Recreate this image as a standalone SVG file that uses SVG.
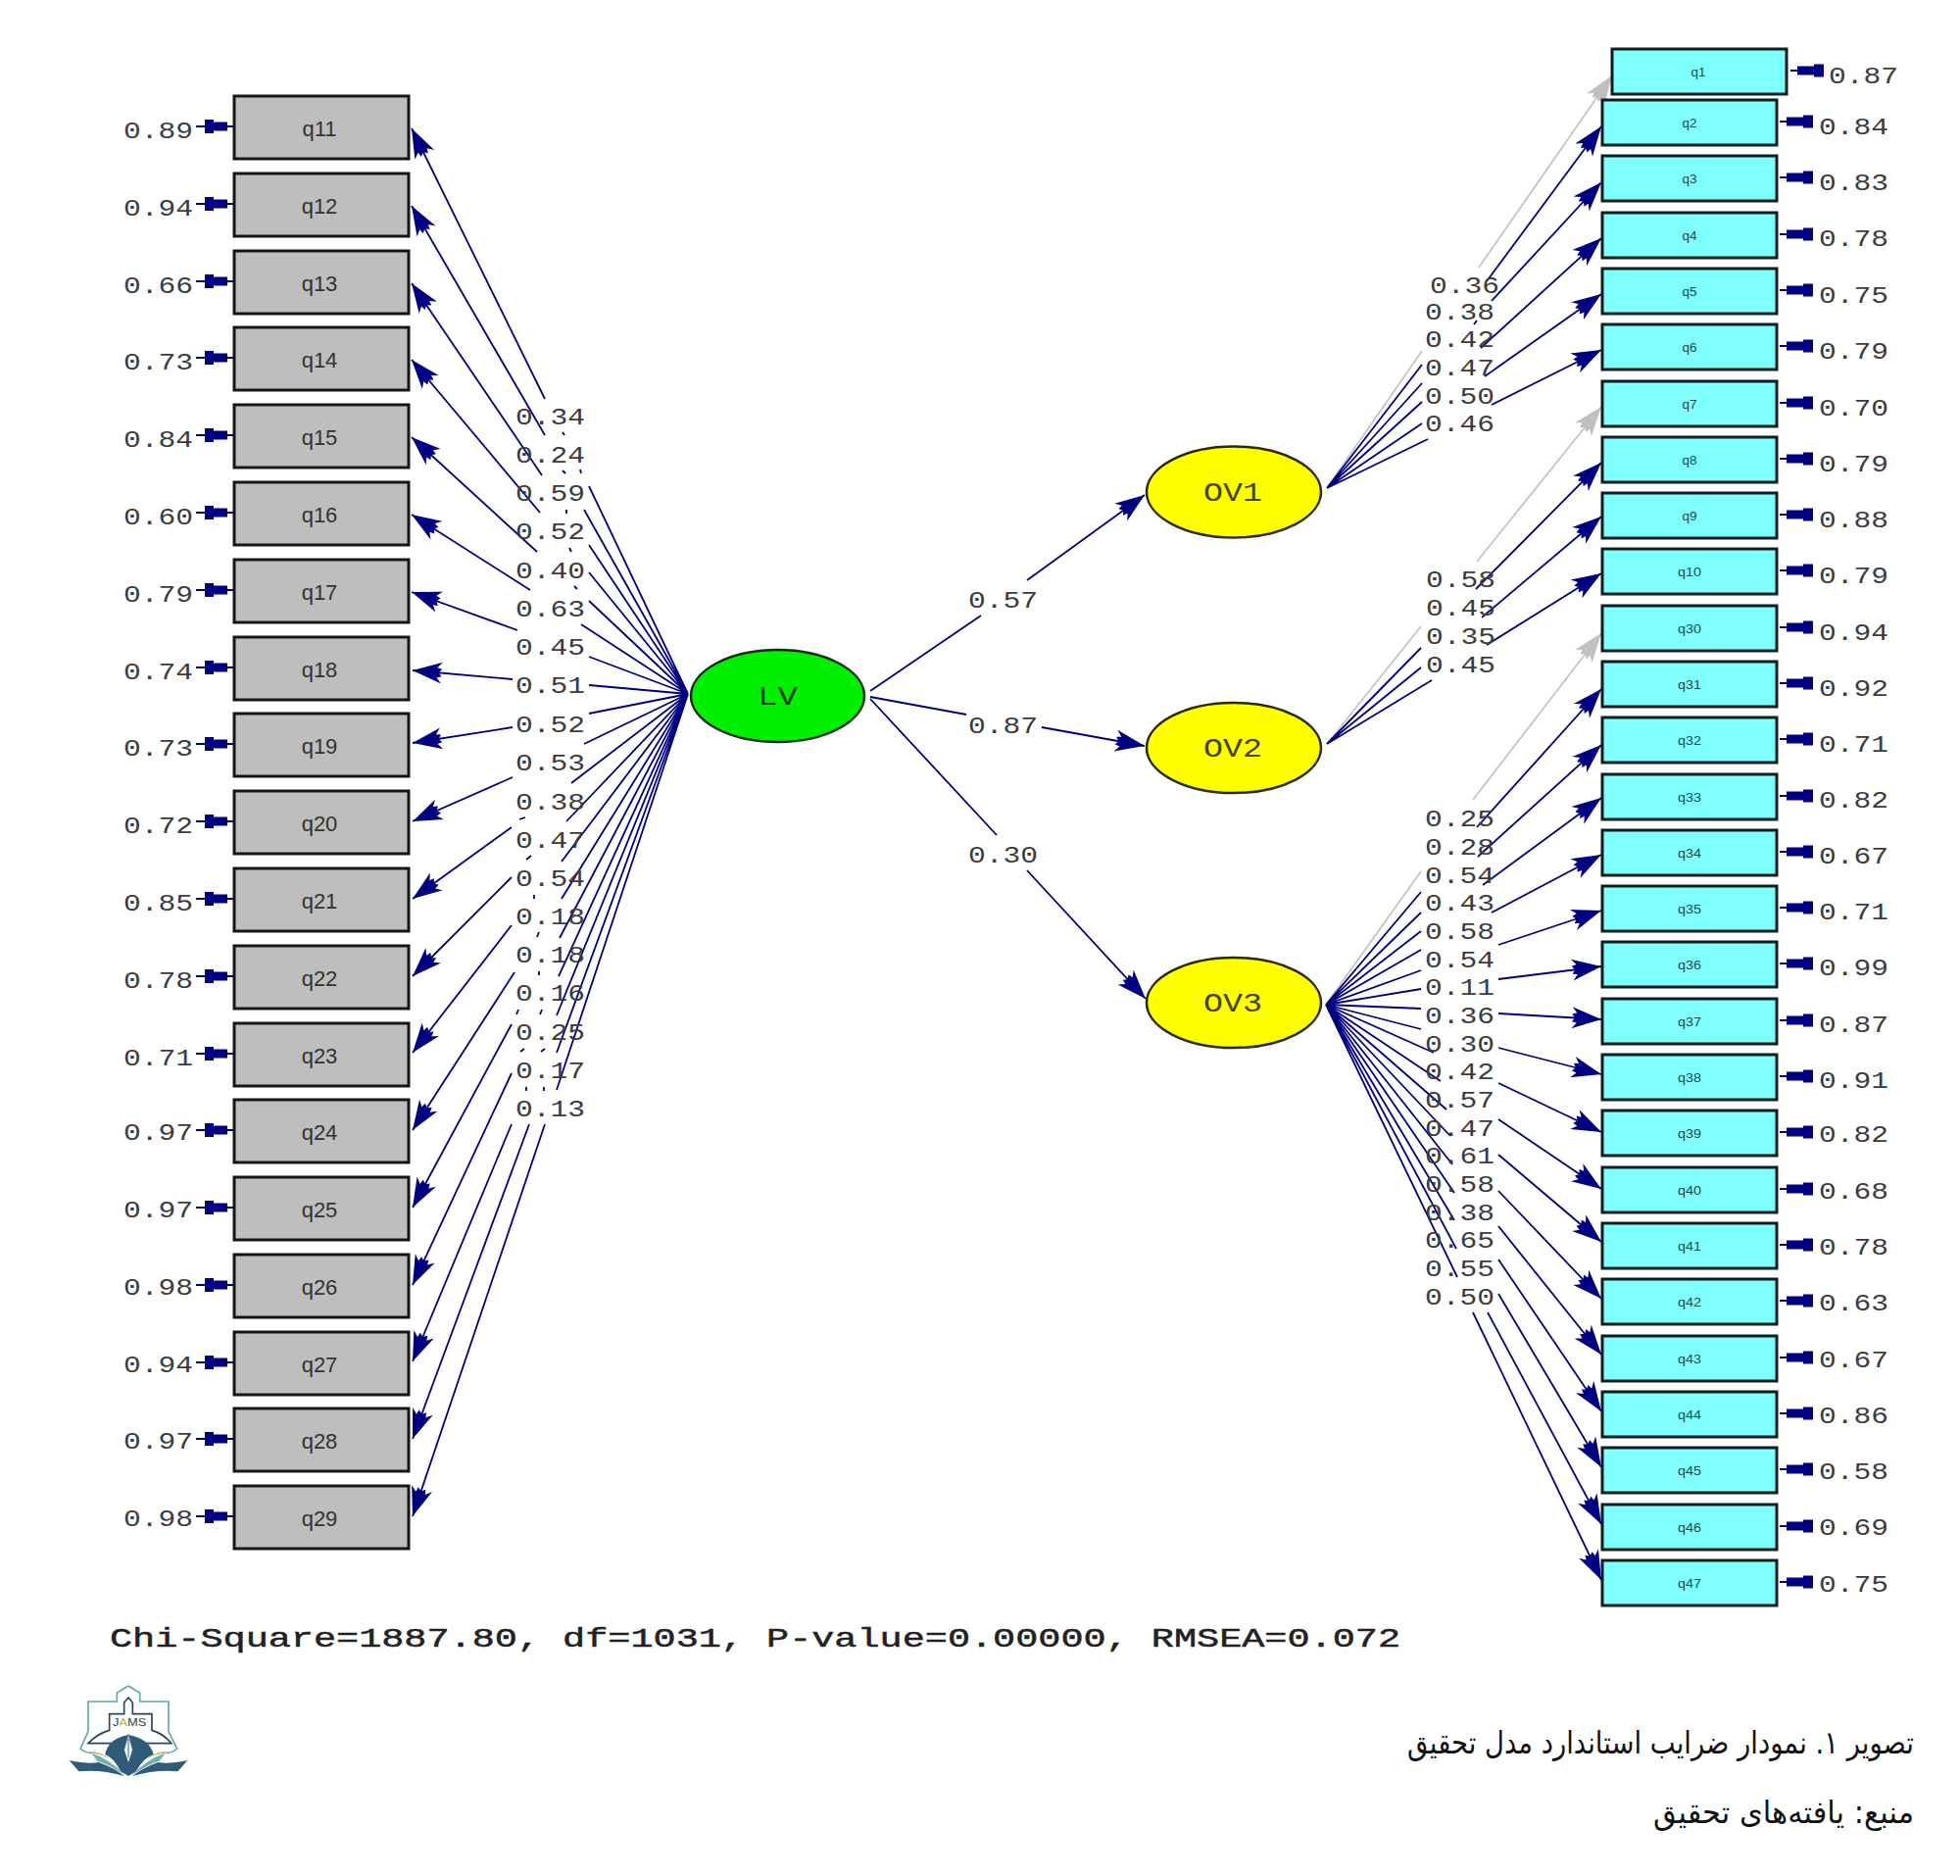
<svg xmlns="http://www.w3.org/2000/svg" xmlns:xlink="http://www.w3.org/1999/xlink" width="2000" height="1914" viewBox="0 0 2000 1914">
<style>
.bg{fill:#fff}
.l{fill:#bebebe;stroke:#161616;stroke-width:3}
.r{fill:#80ffff;stroke:#0f1f1f;stroke-width:3}
.lv{fill:#00f000;stroke:#1a2a1a;stroke-width:2.5}
.ov{fill:#ffff00;stroke:#2a2a10;stroke-width:2.5}
.v{font-family:"Liberation Mono","Courier New",monospace;font-size:23px;fill:#3c3c3c}
.lt{font-family:"Liberation Sans",Arial,sans-serif;font-size:22px;fill:#333;text-anchor:middle}
.rt{font-family:"Liberation Sans",Arial,sans-serif;font-size:13px;fill:#1c4a4a;text-anchor:middle}
.n{font-family:"Liberation Mono","Courier New",monospace;font-size:28px}
.c{font-family:"Liberation Mono","Courier New",monospace;font-size:28px;fill:#222;stroke:#222;stroke-width:.5}
.fa{font-family:"DejaVu Sans",sans-serif;font-size:32px;fill:#111}
.e{fill:#000080}
#conn path{fill:none;stroke:#000080;stroke-width:1.8}
#conn .a{marker-end:url(#h)}
#conn .g{stroke:#c4c4c4}
#conn .ga{stroke:#c4c4c4;marker-end:url(#hg)}
</style>
<defs>
<marker id="h" markerUnits="userSpaceOnUse" markerWidth="36" markerHeight="26" viewBox="0 -13 36 26" refX="33" refY="0" orient="auto"><path d="M33 0L3 -11L8 -5L3 -4L6 0L3 4L8 5L3 11Z" fill="#000080"/></marker>
<marker id="hg" markerUnits="userSpaceOnUse" markerWidth="36" markerHeight="26" viewBox="0 -13 36 26" refX="33" refY="0" orient="auto"><path d="M33 0L3 -11L8 -5L3 -4L6 0L3 4L8 5L3 11Z" fill="#c0c0c0"/></marker>
<path id="eR" class="e" d="M3 -1H10V-4.5H27V-6.5H37V6.5H27V4.5H10V1H3Z"/>
<path id="eL" class="e" d="M0 -1H-6V-4.5H-20V-7H-29V-1H-38V1H-29V7H-20V4.5H-6V1H0Z"/>
</defs>
<rect class="bg" width="2000" height="1914"/>

<g id="conn">
<!-- LV to indicators, inner segments -->
<path d="M702 708L601 496M702 708L596 520M702 708L601 556M702 708L601 584M702 708L601 613M702 708L593 637M702 708L601 670M702 708L601 699M702 708L601 728M702 708L596 759M702 708L583 799M702 708L578 838M702 708L573 879M702 708L573 917M702 708L571 957M702 708L570 996M702 708L568 1036M702 708L568 1074M702 708L568 1112"/>
<!-- small fragments between labels -->
<path d="M574 441l2 3M574 480l3 3M592 479l1 4M578 520v4M581 559l2 4M586 598l3 3M536 834l-6 2M542 873l-5 4M545 913v4M550 951l-2 5M550 991v4M553 1030l-2 5M529 1030l-2 5M556 1070l-4 3M535 1070l-4 3M555 1109v4M537 1109v4"/>
<!-- LV to indicators, outer segments -->
<path class="a" d="M556 407L420 131"/>
<path class="a" d="M556 444L420 210"/>
<path class="a" d="M553 485L420 289"/>
<path class="a" d="M551 523L420 367"/>
<path class="a" d="M548 563L420 446"/>
<path class="a" d="M541 602L420 525"/>
<path class="a" d="M528 643L420 604"/>
<path class="a" d="M523 693L421 684"/>
<path class="a" d="M523 742L421 758"/>
<path class="a" d="M523 793L421 838"/>
<path class="a" d="M522 844L421 917"/>
<path class="a" d="M522 895L421 996"/>
<path class="a" d="M522 944L421 1074"/>
<path class="a" d="M525 992L421 1153"/>
<path class="a" d="M522 1045L421 1232"/>
<path class="a" d="M522 1095L421 1311"/>
<path class="a" d="M522 1147L421 1389"/>
<path class="a" d="M540 1147L421 1468"/>
<path class="a" d="M556 1147L421 1547"/>
<!-- LV to OV -->
<path d="M888 705L1001 628"/>
<path class="a" d="M1048 592L1168 505"/>
<path d="M888 711L986 729"/>
<path class="a" d="M1063 742L1168 761"/>
<path d="M888 713L1017 852"/>
<path class="a" d="M1048 888L1169 1019"/>
<!-- OV1 -->
<path class="g" d="M1354 498L1451 358"/>
<path d="M1354 498L1451 372M1354 498L1451 391M1354 498L1451 410M1354 498L1451 432M1354 498L1457 448"/>
<path class="ga" d="M1509 273L1645 77"/>
<path class="a" d="M1517 287L1634 129"/>
<path class="a" d="M1522 307L1634 186"/>
<path class="a" d="M1511 355L1634 243"/>
<path class="a" d="M1515 384L1634 300"/>
<path class="a" d="M1522 413L1634 357"/>
<path d="M1507 327l-3 4"/>
<!-- OV2 -->
<path class="g" d="M1354 759L1450 639"/>
<path d="M1354 759L1450 661M1354 759L1450 681M1354 759L1461 694"/>
<path class="ga" d="M1507 573L1634 415"/>
<path class="a" d="M1506 601L1634 472"/>
<path class="a" d="M1512 630L1634 527"/>
<path class="a" d="M1517 658L1634 585"/>
<!-- OV3 -->
<path class="g" d="M1353 1025L1450 889"/>
<path d="M1353 1025L1450 910M1353 1025L1450 931M1353 1025L1450 950M1353 1025L1450 969M1353 1025L1450 990M1353 1025L1450 1009M1353 1025L1450 1029M1353 1025L1450 1050M1353 1025L1463 1074M1353 1025L1470 1103M1353 1025L1476 1132M1353 1025L1480 1159M1353 1025L1482 1188M1353 1025L1484 1217M1353 1025L1484 1245M1353 1025L1486 1274M1353 1025L1487 1303"/>
<path class="ga" d="M1503 816L1634 646"/>
<path class="a" d="M1507 844L1634 703"/>
<path class="a" d="M1508 874L1634 760"/>
<path class="a" d="M1513 903L1634 814"/>
<path class="a" d="M1522 931L1634 872"/>
<path class="a" d="M1529 964L1634 929"/>
<path class="a" d="M1529 999L1634 986"/>
<path class="a" d="M1529 1034L1634 1040"/>
<path class="a" d="M1529 1069L1634 1096"/>
<path class="a" d="M1529 1105L1634 1155"/>
<path class="a" d="M1529 1142L1634 1213"/>
<path class="a" d="M1529 1178L1634 1267"/>
<path class="a" d="M1529 1215L1634 1325"/>
<path class="a" d="M1529 1251L1634 1382"/>
<path class="a" d="M1529 1285L1634 1440"/>
<path class="a" d="M1529 1320L1634 1497"/>
<path class="a" d="M1518 1339L1634 1555"/>
<path class="a" d="M1503 1339L1634 1612"/>
</g>

<g id="loadings">
<g class="v">
<text x="526" y="433" textLength="71" lengthAdjust="spacingAndGlyphs">0.34</text>
<text x="526" y="472" textLength="71" lengthAdjust="spacingAndGlyphs">0.24</text>
<text x="526" y="511" textLength="71" lengthAdjust="spacingAndGlyphs">0.59</text>
<text x="526" y="550" textLength="71" lengthAdjust="spacingAndGlyphs">0.52</text>
<text x="526" y="590" textLength="71" lengthAdjust="spacingAndGlyphs">0.40</text>
<text x="526" y="629" textLength="71" lengthAdjust="spacingAndGlyphs">0.63</text>
<text x="526" y="668" textLength="71" lengthAdjust="spacingAndGlyphs">0.45</text>
<text x="526" y="707" textLength="71" lengthAdjust="spacingAndGlyphs">0.51</text>
<text x="526" y="747" textLength="71" lengthAdjust="spacingAndGlyphs">0.52</text>
<text x="526" y="786" textLength="71" lengthAdjust="spacingAndGlyphs">0.53</text>
<text x="526" y="826" textLength="71" lengthAdjust="spacingAndGlyphs">0.38</text>
<text x="526" y="865" textLength="71" lengthAdjust="spacingAndGlyphs">0.47</text>
<text x="526" y="904" textLength="71" lengthAdjust="spacingAndGlyphs">0.54</text>
<text x="526" y="943" textLength="71" lengthAdjust="spacingAndGlyphs">0.18</text>
<text x="526" y="982" textLength="71" lengthAdjust="spacingAndGlyphs">0.18</text>
<text x="526" y="1021" textLength="71" lengthAdjust="spacingAndGlyphs">0.16</text>
<text x="526" y="1061" textLength="71" lengthAdjust="spacingAndGlyphs">0.25</text>
<text x="526" y="1100" textLength="71" lengthAdjust="spacingAndGlyphs">0.17</text>
<text x="526" y="1139" textLength="71" lengthAdjust="spacingAndGlyphs">0.13</text>
<text x="988" y="620" textLength="71" lengthAdjust="spacingAndGlyphs">0.57</text>
<text x="988" y="748" textLength="71" lengthAdjust="spacingAndGlyphs">0.87</text>
<text x="988" y="880" textLength="71" lengthAdjust="spacingAndGlyphs">0.30</text>
<text x="1459" y="299" textLength="71" lengthAdjust="spacingAndGlyphs">0.36</text>
<text x="1454" y="326" textLength="71" lengthAdjust="spacingAndGlyphs">0.38</text>
<text x="1454" y="354" textLength="71" lengthAdjust="spacingAndGlyphs">0.42</text>
<text x="1454" y="383" textLength="71" lengthAdjust="spacingAndGlyphs">0.47</text>
<text x="1454" y="412" textLength="71" lengthAdjust="spacingAndGlyphs">0.50</text>
<text x="1454" y="440" textLength="71" lengthAdjust="spacingAndGlyphs">0.46</text>
<text x="1455" y="599" textLength="71" lengthAdjust="spacingAndGlyphs">0.58</text>
<text x="1455" y="628" textLength="71" lengthAdjust="spacingAndGlyphs">0.45</text>
<text x="1455" y="657" textLength="71" lengthAdjust="spacingAndGlyphs">0.35</text>
<text x="1455" y="686" textLength="71" lengthAdjust="spacingAndGlyphs">0.45</text>
<text x="1454" y="843" textLength="71" lengthAdjust="spacingAndGlyphs">0.25</text>
<text x="1454" y="872" textLength="71" lengthAdjust="spacingAndGlyphs">0.28</text>
<text x="1454" y="901" textLength="71" lengthAdjust="spacingAndGlyphs">0.54</text>
<text x="1454" y="929" textLength="71" lengthAdjust="spacingAndGlyphs">0.43</text>
<text x="1454" y="958" textLength="71" lengthAdjust="spacingAndGlyphs">0.58</text>
<text x="1454" y="987" textLength="71" lengthAdjust="spacingAndGlyphs">0.54</text>
<text x="1454" y="1015" textLength="71" lengthAdjust="spacingAndGlyphs">0.11</text>
<text x="1454" y="1044" textLength="71" lengthAdjust="spacingAndGlyphs">0.36</text>
<text x="1454" y="1073" textLength="71" lengthAdjust="spacingAndGlyphs">0.30</text>
<text x="1454" y="1101" textLength="71" lengthAdjust="spacingAndGlyphs">0.42</text>
<text x="1454" y="1130" textLength="71" lengthAdjust="spacingAndGlyphs">0.57</text>
<text x="1454" y="1159" textLength="71" lengthAdjust="spacingAndGlyphs">0.47</text>
<text x="1454" y="1187" textLength="71" lengthAdjust="spacingAndGlyphs">0.61</text>
<text x="1454" y="1216" textLength="71" lengthAdjust="spacingAndGlyphs">0.58</text>
<text x="1454" y="1245" textLength="71" lengthAdjust="spacingAndGlyphs">0.38</text>
<text x="1454" y="1273" textLength="71" lengthAdjust="spacingAndGlyphs">0.65</text>
<text x="1454" y="1302" textLength="71" lengthAdjust="spacingAndGlyphs">0.55</text>
<text x="1454" y="1331" textLength="71" lengthAdjust="spacingAndGlyphs">0.50</text>
</g>
</g>

<g id="LV"><ellipse class="lv" cx="793.5" cy="710" rx="88.5" ry="47"/><text class="n" x="773" y="719" fill="#103a10" textLength="41" lengthAdjust="spacingAndGlyphs">LV</text></g>
<g id="OV1"><ellipse class="ov" cx="1259" cy="502" rx="89" ry="46.5"/><text class="n" x="1228" y="511" fill="#44440a" textLength="60" lengthAdjust="spacingAndGlyphs">OV1</text></g>
<g id="OV2"><ellipse class="ov" cx="1259" cy="763" rx="89" ry="46"/><text class="n" x="1228" y="772" fill="#44440a" textLength="60" lengthAdjust="spacingAndGlyphs">OV2</text></g>
<g id="OV3"><ellipse class="ov" cx="1259" cy="1023" rx="89" ry="46"/><text class="n" x="1228" y="1032" fill="#44440a" textLength="60" lengthAdjust="spacingAndGlyphs">OV3</text></g>

<g id="left-nodes">
<g id="q11"><rect class="l" x="239" y="98" width="178" height="64"/><text class="lt" x="326" y="139">q11</text><use href="#eL" x="238" y="129"/><text class="v" x="126" y="141" textLength="71" lengthAdjust="spacingAndGlyphs">0.89</text></g>
<g id="q12"><rect class="l" x="239" y="177" width="178" height="64"/><text class="lt" x="326" y="218">q12</text><use href="#eL" x="238" y="208"/><text class="v" x="126" y="220" textLength="71" lengthAdjust="spacingAndGlyphs">0.94</text></g>
<g id="q13"><rect class="l" x="239" y="256" width="178" height="64"/><text class="lt" x="326" y="297">q13</text><use href="#eL" x="238" y="287"/><text class="v" x="126" y="299" textLength="71" lengthAdjust="spacingAndGlyphs">0.66</text></g>
<g id="q14"><rect class="l" x="239" y="334" width="178" height="64"/><text class="lt" x="326" y="375">q14</text><use href="#eL" x="238" y="365"/><text class="v" x="126" y="377" textLength="71" lengthAdjust="spacingAndGlyphs">0.73</text></g>
<g id="q15"><rect class="l" x="239" y="413" width="178" height="64"/><text class="lt" x="326" y="454">q15</text><use href="#eL" x="238" y="444"/><text class="v" x="126" y="456" textLength="71" lengthAdjust="spacingAndGlyphs">0.84</text></g>
<g id="q16"><rect class="l" x="239" y="492" width="178" height="64"/><text class="lt" x="326" y="533">q16</text><use href="#eL" x="238" y="523"/><text class="v" x="126" y="535" textLength="71" lengthAdjust="spacingAndGlyphs">0.60</text></g>
<g id="q17"><rect class="l" x="239" y="571" width="178" height="64"/><text class="lt" x="326" y="612">q17</text><use href="#eL" x="238" y="602"/><text class="v" x="126" y="614" textLength="71" lengthAdjust="spacingAndGlyphs">0.79</text></g>
<g id="q18"><rect class="l" x="239" y="650" width="178" height="64"/><text class="lt" x="326" y="691">q18</text><use href="#eL" x="238" y="681"/><text class="v" x="126" y="693" textLength="71" lengthAdjust="spacingAndGlyphs">0.74</text></g>
<g id="q19"><rect class="l" x="239" y="728" width="178" height="64"/><text class="lt" x="326" y="769">q19</text><use href="#eL" x="238" y="759"/><text class="v" x="126" y="771" textLength="71" lengthAdjust="spacingAndGlyphs">0.73</text></g>
<g id="q20"><rect class="l" x="239" y="807" width="178" height="64"/><text class="lt" x="326" y="848">q20</text><use href="#eL" x="238" y="838"/><text class="v" x="126" y="850" textLength="71" lengthAdjust="spacingAndGlyphs">0.72</text></g>
<g id="q21"><rect class="l" x="239" y="886" width="178" height="64"/><text class="lt" x="326" y="927">q21</text><use href="#eL" x="238" y="917"/><text class="v" x="126" y="929" textLength="71" lengthAdjust="spacingAndGlyphs">0.85</text></g>
<g id="q22"><rect class="l" x="239" y="965" width="178" height="64"/><text class="lt" x="326" y="1006">q22</text><use href="#eL" x="238" y="996"/><text class="v" x="126" y="1008" textLength="71" lengthAdjust="spacingAndGlyphs">0.78</text></g>
<g id="q23"><rect class="l" x="239" y="1044" width="178" height="64"/><text class="lt" x="326" y="1085">q23</text><use href="#eL" x="238" y="1075"/><text class="v" x="126" y="1087" textLength="71" lengthAdjust="spacingAndGlyphs">0.71</text></g>
<g id="q24"><rect class="l" x="239" y="1122" width="178" height="64"/><text class="lt" x="326" y="1163">q24</text><use href="#eL" x="238" y="1153"/><text class="v" x="126" y="1163" textLength="71" lengthAdjust="spacingAndGlyphs">0.97</text></g>
<g id="q25"><rect class="l" x="239" y="1201" width="178" height="64"/><text class="lt" x="326" y="1242">q25</text><use href="#eL" x="238" y="1232"/><text class="v" x="126" y="1242" textLength="71" lengthAdjust="spacingAndGlyphs">0.97</text></g>
<g id="q26"><rect class="l" x="239" y="1280" width="178" height="64"/><text class="lt" x="326" y="1321">q26</text><use href="#eL" x="238" y="1311"/><text class="v" x="126" y="1321" textLength="71" lengthAdjust="spacingAndGlyphs">0.98</text></g>
<g id="q27"><rect class="l" x="239" y="1359" width="178" height="64"/><text class="lt" x="326" y="1400">q27</text><use href="#eL" x="238" y="1390"/><text class="v" x="126" y="1400" textLength="71" lengthAdjust="spacingAndGlyphs">0.94</text></g>
<g id="q28"><rect class="l" x="239" y="1437" width="178" height="64"/><text class="lt" x="326" y="1478">q28</text><use href="#eL" x="238" y="1468"/><text class="v" x="126" y="1478" textLength="71" lengthAdjust="spacingAndGlyphs">0.97</text></g>
<g id="q29"><rect class="l" x="239" y="1516" width="178" height="64"/><text class="lt" x="326" y="1557">q29</text><use href="#eL" x="238" y="1547"/><text class="v" x="126" y="1557" textLength="71" lengthAdjust="spacingAndGlyphs">0.98</text></g>
</g>

<g id="right-nodes">
<g id="q1"><rect class="r" x="1645" y="50" width="178" height="46"/><text class="rt" x="1733" y="78" textLength="15" lengthAdjust="spacingAndGlyphs">q1</text><use href="#eR" x="1824" y="72"/><text class="v" x="1866" y="85" textLength="71" lengthAdjust="spacingAndGlyphs">0.87</text></g>
<g id="q2"><rect class="r" x="1635" y="102" width="178" height="46"/><text class="rt" x="1724" y="130" textLength="15" lengthAdjust="spacingAndGlyphs">q2</text><use href="#eR" x="1813" y="124"/><text class="v" x="1856" y="137" textLength="71" lengthAdjust="spacingAndGlyphs">0.84</text></g>
<g id="q3"><rect class="r" x="1635" y="159" width="178" height="46"/><text class="rt" x="1724" y="187" textLength="15" lengthAdjust="spacingAndGlyphs">q3</text><use href="#eR" x="1813" y="181"/><text class="v" x="1856" y="194" textLength="71" lengthAdjust="spacingAndGlyphs">0.83</text></g>
<g id="q4"><rect class="r" x="1635" y="217" width="178" height="46"/><text class="rt" x="1724" y="245" textLength="15" lengthAdjust="spacingAndGlyphs">q4</text><use href="#eR" x="1813" y="239"/><text class="v" x="1856" y="251" textLength="71" lengthAdjust="spacingAndGlyphs">0.78</text></g>
<g id="q5"><rect class="r" x="1635" y="274" width="178" height="46"/><text class="rt" x="1724" y="302" textLength="15" lengthAdjust="spacingAndGlyphs">q5</text><use href="#eR" x="1813" y="296"/><text class="v" x="1856" y="309" textLength="71" lengthAdjust="spacingAndGlyphs">0.75</text></g>
<g id="q6"><rect class="r" x="1635" y="331" width="178" height="46"/><text class="rt" x="1724" y="359" textLength="15" lengthAdjust="spacingAndGlyphs">q6</text><use href="#eR" x="1813" y="353"/><text class="v" x="1856" y="366" textLength="71" lengthAdjust="spacingAndGlyphs">0.79</text></g>
<g id="q7"><rect class="r" x="1635" y="389" width="178" height="46"/><text class="rt" x="1724" y="417" textLength="15" lengthAdjust="spacingAndGlyphs">q7</text><use href="#eR" x="1813" y="411"/><text class="v" x="1856" y="424" textLength="71" lengthAdjust="spacingAndGlyphs">0.70</text></g>
<g id="q8"><rect class="r" x="1635" y="446" width="178" height="46"/><text class="rt" x="1724" y="474" textLength="15" lengthAdjust="spacingAndGlyphs">q8</text><use href="#eR" x="1813" y="468"/><text class="v" x="1856" y="481" textLength="71" lengthAdjust="spacingAndGlyphs">0.79</text></g>
<g id="q9"><rect class="r" x="1635" y="503" width="178" height="46"/><text class="rt" x="1724" y="531" textLength="15" lengthAdjust="spacingAndGlyphs">q9</text><use href="#eR" x="1813" y="525"/><text class="v" x="1856" y="538" textLength="71" lengthAdjust="spacingAndGlyphs">0.88</text></g>
<g id="q10"><rect class="r" x="1635" y="560" width="178" height="46"/><text class="rt" x="1724" y="588" textLength="24" lengthAdjust="spacingAndGlyphs">q10</text><use href="#eR" x="1813" y="582"/><text class="v" x="1856" y="595" textLength="71" lengthAdjust="spacingAndGlyphs">0.79</text></g>
<g id="q30"><rect class="r" x="1635" y="618" width="178" height="46"/><text class="rt" x="1724" y="646" textLength="24" lengthAdjust="spacingAndGlyphs">q30</text><use href="#eR" x="1813" y="640"/><text class="v" x="1856" y="653" textLength="71" lengthAdjust="spacingAndGlyphs">0.94</text></g>
<g id="q31"><rect class="r" x="1635" y="675" width="178" height="46"/><text class="rt" x="1724" y="703" textLength="24" lengthAdjust="spacingAndGlyphs">q31</text><use href="#eR" x="1813" y="697"/><text class="v" x="1856" y="710" textLength="71" lengthAdjust="spacingAndGlyphs">0.92</text></g>
<g id="q32"><rect class="r" x="1635" y="732" width="178" height="46"/><text class="rt" x="1724" y="760" textLength="24" lengthAdjust="spacingAndGlyphs">q32</text><use href="#eR" x="1813" y="754"/><text class="v" x="1856" y="767" textLength="71" lengthAdjust="spacingAndGlyphs">0.71</text></g>
<g id="q33"><rect class="r" x="1635" y="790" width="178" height="46"/><text class="rt" x="1724" y="818" textLength="24" lengthAdjust="spacingAndGlyphs">q33</text><use href="#eR" x="1813" y="812"/><text class="v" x="1856" y="824" textLength="71" lengthAdjust="spacingAndGlyphs">0.82</text></g>
<g id="q34"><rect class="r" x="1635" y="847" width="178" height="46"/><text class="rt" x="1724" y="875" textLength="24" lengthAdjust="spacingAndGlyphs">q34</text><use href="#eR" x="1813" y="869"/><text class="v" x="1856" y="881" textLength="71" lengthAdjust="spacingAndGlyphs">0.67</text></g>
<g id="q35"><rect class="r" x="1635" y="904" width="178" height="46"/><text class="rt" x="1724" y="932" textLength="24" lengthAdjust="spacingAndGlyphs">q35</text><use href="#eR" x="1813" y="926"/><text class="v" x="1856" y="938" textLength="71" lengthAdjust="spacingAndGlyphs">0.71</text></g>
<g id="q36"><rect class="r" x="1635" y="961" width="178" height="46"/><text class="rt" x="1724" y="989" textLength="24" lengthAdjust="spacingAndGlyphs">q36</text><use href="#eR" x="1813" y="983"/><text class="v" x="1856" y="995" textLength="71" lengthAdjust="spacingAndGlyphs">0.99</text></g>
<g id="q37"><rect class="r" x="1635" y="1019" width="178" height="46"/><text class="rt" x="1724" y="1047" textLength="24" lengthAdjust="spacingAndGlyphs">q37</text><use href="#eR" x="1813" y="1041"/><text class="v" x="1856" y="1053" textLength="71" lengthAdjust="spacingAndGlyphs">0.87</text></g>
<g id="q38"><rect class="r" x="1635" y="1076" width="178" height="46"/><text class="rt" x="1724" y="1104" textLength="24" lengthAdjust="spacingAndGlyphs">q38</text><use href="#eR" x="1813" y="1098"/><text class="v" x="1856" y="1110" textLength="71" lengthAdjust="spacingAndGlyphs">0.91</text></g>
<g id="q39"><rect class="r" x="1635" y="1133" width="178" height="46"/><text class="rt" x="1724" y="1161" textLength="24" lengthAdjust="spacingAndGlyphs">q39</text><use href="#eR" x="1813" y="1155"/><text class="v" x="1856" y="1165" textLength="71" lengthAdjust="spacingAndGlyphs">0.82</text></g>
<g id="q40"><rect class="r" x="1635" y="1191" width="178" height="46"/><text class="rt" x="1724" y="1219" textLength="24" lengthAdjust="spacingAndGlyphs">q40</text><use href="#eR" x="1813" y="1213"/><text class="v" x="1856" y="1223" textLength="71" lengthAdjust="spacingAndGlyphs">0.68</text></g>
<g id="q41"><rect class="r" x="1635" y="1248" width="178" height="46"/><text class="rt" x="1724" y="1276" textLength="24" lengthAdjust="spacingAndGlyphs">q41</text><use href="#eR" x="1813" y="1270"/><text class="v" x="1856" y="1280" textLength="71" lengthAdjust="spacingAndGlyphs">0.78</text></g>
<g id="q42"><rect class="r" x="1635" y="1305" width="178" height="46"/><text class="rt" x="1724" y="1333" textLength="24" lengthAdjust="spacingAndGlyphs">q42</text><use href="#eR" x="1813" y="1327"/><text class="v" x="1856" y="1337" textLength="71" lengthAdjust="spacingAndGlyphs">0.63</text></g>
<g id="q43"><rect class="r" x="1635" y="1363" width="178" height="46"/><text class="rt" x="1724" y="1391" textLength="24" lengthAdjust="spacingAndGlyphs">q43</text><use href="#eR" x="1813" y="1385"/><text class="v" x="1856" y="1395" textLength="71" lengthAdjust="spacingAndGlyphs">0.67</text></g>
<g id="q44"><rect class="r" x="1635" y="1420" width="178" height="46"/><text class="rt" x="1724" y="1448" textLength="24" lengthAdjust="spacingAndGlyphs">q44</text><use href="#eR" x="1813" y="1442"/><text class="v" x="1856" y="1452" textLength="71" lengthAdjust="spacingAndGlyphs">0.86</text></g>
<g id="q45"><rect class="r" x="1635" y="1477" width="178" height="46"/><text class="rt" x="1724" y="1505" textLength="24" lengthAdjust="spacingAndGlyphs">q45</text><use href="#eR" x="1813" y="1499"/><text class="v" x="1856" y="1509" textLength="71" lengthAdjust="spacingAndGlyphs">0.58</text></g>
<g id="q46"><rect class="r" x="1635" y="1535" width="178" height="46"/><text class="rt" x="1724" y="1563" textLength="24" lengthAdjust="spacingAndGlyphs">q46</text><use href="#eR" x="1813" y="1557"/><text class="v" x="1856" y="1566" textLength="71" lengthAdjust="spacingAndGlyphs">0.69</text></g>
<g id="q47"><rect class="r" x="1635" y="1592" width="178" height="46"/><text class="rt" x="1724" y="1620" textLength="24" lengthAdjust="spacingAndGlyphs">q47</text><use href="#eR" x="1813" y="1614"/><text class="v" x="1856" y="1624" textLength="71" lengthAdjust="spacingAndGlyphs">0.75</text></g>
</g>

<text class="c" x="112" y="1680" textLength="1317" lengthAdjust="spacingAndGlyphs">Chi-Square=1887.80, df=1031, P-value=0.00000, RMSEA=0.072</text>

<g id="logo" transform="translate(60 1710) scale(.3333)">
<path d="M213 30L178 52V78H90V170L66 222Q78 234 100 236M213 30L248 52V78H336V170L362 222Q350 234 328 236" fill="none" stroke="#5fa9a9" stroke-width="5"/>
<path d="M213 65L200 82V116H155V166Q118 176 90 206H168M213 65L226 82V116H285V166Q320 176 345 206H258" fill="none" stroke="#2b4456" stroke-width="5"/>
<text x="165" y="152" font-family="Liberation Sans,Arial,sans-serif" font-size="30" fill="#2b4456" textLength="103" lengthAdjust="spacingAndGlyphs">J<tspan fill="#c9a94a">A</tspan>MS</text>
<path d="M142 240Q150 192 213 180Q278 192 290 240Q262 248 236 292L213 306L190 292Q166 248 142 240Z" fill="#2f5a78"/>
<path d="M213 178L200 226L213 268L226 226Z" fill="#fff" stroke="#2f5a78" stroke-width="2"/>
<path d="M213 190V250" stroke="#2f5a78" stroke-width="3"/>
<g id="leaf">
<path d="M32 258Q90 270 122 264Q172 282 200 306Q130 286 62 292Q46 275 32 258Z" fill="#2f5a78"/>
<path d="M100 236Q150 250 206 306Q150 268 118 260Z" fill="#6fb0ae"/>
<path d="M95 230Q130 232 160 254Q130 238 100 236Z" fill="#c8b46a"/>
</g>
<use href="#leaf" transform="translate(426 0) scale(-1 1)"/>
</g>

<text class="fa" x="1953" y="1789" direction="rtl" textLength="517" lengthAdjust="spacingAndGlyphs">تصویر ۱. نمودار ضرایب استاندارد مدل تحقیق</text>
<text class="fa" x="1953" y="1860" direction="rtl" textLength="266" lengthAdjust="spacingAndGlyphs">منبع: یافته‌های تحقیق</text>
</svg>
